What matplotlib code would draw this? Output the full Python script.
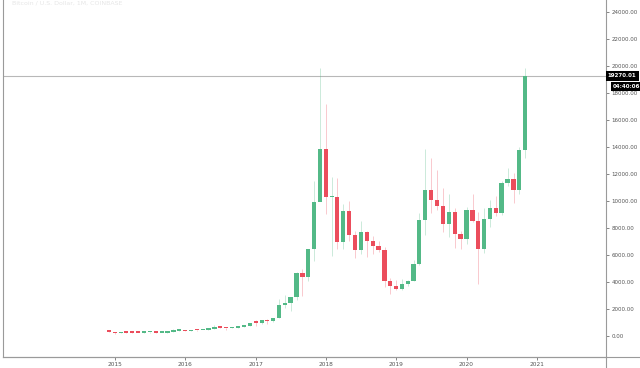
import matplotlib
matplotlib.use("Agg")
import matplotlib.pyplot as plt
import matplotlib.dates as mdates
import pandas as pd

# monthly BTC/USD candles, Dec 2014 .. Nov 2020
months = pd.date_range("2014-12-01", "2020-11-01", freq="MS")
opens = [378, 320, 217, 254, 244, 236, 230, 263, 284, 230, 236, 314, 377,
         430, 368, 437, 416, 448, 531, 673, 624, 575, 608, 700, 745,
         966, 965, 1190, 1080, 1350, 2300, 2480, 2870, 4700, 4340, 6450, 9950,
         13880, 10260, 10330, 6930, 9240, 7500, 6400, 7730, 7030, 6630, 6370, 4040,
         3740, 3460, 3830, 4100, 5320, 8570, 10820, 10080, 9600, 8300, 9150, 7550,
         7190, 9350, 8530, 6410, 8630, 9450, 9140, 11350, 11660, 10780, 13800]
highs = [385, 320, 265, 300, 262, 247, 268, 315, 284, 244, 335, 502, 465,
         462, 443, 440, 469, 549, 780, 705, 628, 630, 720, 755, 980,
         1150, 1200, 1290, 1350, 2760, 3000, 2920, 4740, 4980, 6470, 11500, 19870,
         17200, 11800, 11700, 9750, 9980, 7770, 8500, 7770, 7400, 7000, 6600, 4300,
         4120, 4220, 4140, 5620, 9100, 13880, 13200, 12320, 10950, 10540, 9500, 7750,
         9580, 10500, 9190, 9460, 10080, 10380, 11450, 12470, 12070, 14000, 19850]
lows = [310, 152, 212, 236, 215, 225, 221, 253, 198, 226, 235, 310, 350,
        352, 365, 395, 414, 440, 523, 605, 480, 570, 605, 680, 740,
        750, 920, 890, 1060, 1350, 2100, 1840, 2700, 2970, 4110, 5550, 10900,
        9000, 5900, 6430, 6430, 7030, 5750, 6070, 5880, 6110, 6200, 3600, 3120,
        3400, 3390, 3730, 4070, 5280, 7470, 9100, 9350, 7710, 7300, 6540, 6430,
        6850, 8450, 3850, 6150, 8100, 8900, 8980, 11100, 9880, 10540, 13200]
closes = [320, 217, 254, 244, 236, 230, 263, 284, 230, 236, 314, 377, 430,
          368, 437, 416, 448, 531, 673, 624, 575, 608, 700, 745, 966,
          965, 1190, 1080, 1350, 2300, 2480, 2870, 4700, 4340, 6450, 9950, 13880,
          10260, 10330, 6930, 9240, 7500, 6400, 7730, 7030, 6630, 6370, 4040, 3740,
          3460, 3830, 4100, 5320, 8570, 10820, 10080, 9600, 8300, 9150, 7550, 7190,
          9350, 8530, 6410, 8630, 9450, 9140, 11350, 11660, 10780, 13800, 19270.01]
last_price = 19270.01
countdown = "04:40:06"
year_ticks = pd.date_range("2015-01-01", "2021-01-01", freq="YS")

up_col = "#53b987"
down_col = "#eb4d5c"
line_col = "#9a9a9a"

fig = plt.figure(figsize=(6.4, 3.68), dpi=100)
ax = fig.add_axes([3 / 640, 11 / 368, 603 / 640, 357 / 368])

x = mdates.date2num(months)
cols = [up_col if c >= o else down_col for o, c in zip(opens, closes)]
bottoms = [min(o, c) for o, c in zip(opens, closes)]
heights = [max(abs(c - o), 110) for o, c in zip(opens, closes)]

ax.vlines(x, lows, highs, colors=cols, linewidth=0.6, alpha=0.35, zorder=2)
ax.bar(x, heights, bottom=bottoms, width=22, color=cols, linewidth=0, zorder=3)

ax.set_xlim(mdates.date2num(pd.Timestamp("2013-05-30")), mdates.date2num(pd.Timestamp("2021-12-25")))
ax.set_ylim(-1556, 24889)

# last price line
ax.axhline(last_price, color="#b8b8b8", linewidth=0.8, zorder=1)

ax.yaxis.tick_right()
ax.set_yticks(range(0, 24001, 2000))
ax.yaxis.set_major_formatter(matplotlib.ticker.FormatStrFormatter("%.2f"))
ax.set_xticks(mdates.date2num(year_ticks))
ax.set_xticklabels([str(d.year) for d in year_ticks])
ax.tick_params(axis="y", labelsize=4, colors="#555555", length=2.5, width=0.5, pad=1.5)
ax.tick_params(axis="x", labelsize=4.2, colors="#555555", length=2, width=0.5, pad=1.5)

ax.spines["top"].set_visible(False)
for s in ["left", "right", "bottom"]:
    ax.spines[s].set_color(line_col)
    ax.spines[s].set_linewidth(0.8)

# extend bottom line under the price scale
fig.add_artist(plt.Line2D([3 / 640, 1], [11 / 368, 11 / 368], color=line_col, linewidth=0.8))
fig.add_artist(plt.Line2D([606 / 640, 606 / 640], [0, 11 / 368], color=line_col, linewidth=0.8))

# price and countdown labels
ax.text(1.003, last_price, "19270.01", transform=ax.get_yaxis_transform(), fontsize=4,
        color="white", fontweight="bold", va="center", ha="left",
        bbox=dict(boxstyle="square,pad=0.4", facecolor="black", edgecolor="none"))
ax.text(1.011, last_price - 790, countdown, transform=ax.get_yaxis_transform(), fontsize=4,
        color="white", fontweight="bold", va="center", ha="left",
        bbox=dict(boxstyle="square,pad=0.35", facecolor="black", edgecolor="none"))

fig.text(12 / 640, 1 - 3 / 368, "Bitcoin / U.S. Dollar, 1M, COINBASE", fontsize=4.5,
         color="#e6e6e6", va="center", ha="left")

fig.savefig("out.png", dpi=100)
